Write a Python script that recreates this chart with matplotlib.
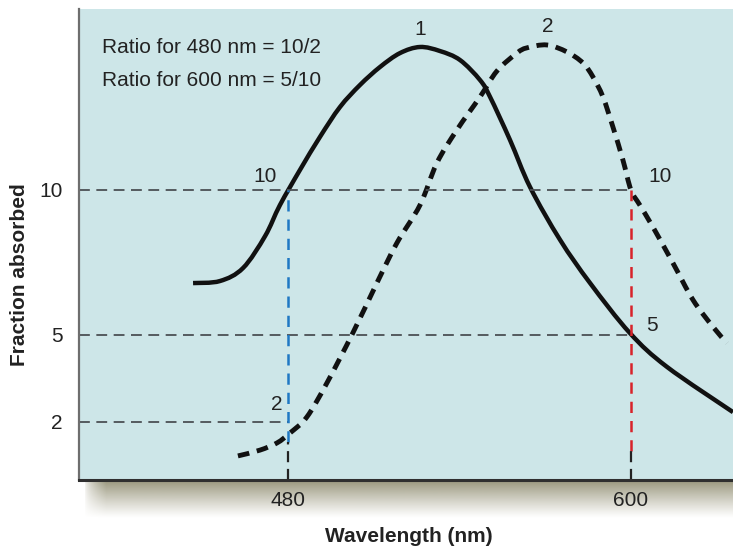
import numpy as np
import matplotlib.pyplot as plt
from matplotlib.path import Path
from matplotlib.patches import PathPatch

plt.rcParams['font.family'] = ['Liberation Sans', 'DejaVu Sans']

# pigment 1 (solid curve)
wl_1 = [446.8, 456.2, 464.3, 472.0, 477.2, 484.2, 491.2, 498.2, 505.2, 512.2,
        519.2, 526.2, 533.2, 540.2, 547.2, 550.7, 557.7, 564.7, 575.2, 585.7,
        599.6, 612.6, 635.7]
abs_1 = [6.79, 6.86, 7.31, 8.41, 9.48, 10.69, 11.83, 12.86, 13.62, 14.24,
         14.72, 14.93, 14.79, 14.48, 13.79, 13.21, 11.72, 10.10, 8.28, 6.79,
         5.07, 3.90, 2.34]

# pigment 2 (dashed curve)
wl_2 = [462.5, 470.2, 476.2, 480.7, 486.6, 493.6, 502.7, 511.1, 518.1, 526.2,
        532.1, 539.1, 547.2, 553.1, 560.1, 563.6, 570.6, 577.6, 583.2, 586.7,
        590.2, 593.7, 597.2, 600.0, 603.1, 607.7, 614.7, 621.7, 628.7, 633.6]
abs_2 = [0.83, 1.03, 1.28, 1.62, 2.17, 3.34, 5.07, 6.79, 8.17, 9.48,
         10.93, 12.07, 13.21, 14.10, 14.72, 14.90, 15.00, 14.76, 14.38, 13.90,
         13.21, 12.17, 11.03, 10.00, 9.48, 8.72, 7.48, 6.21, 5.28, 4.72]

x_ticks = [480, 600]
y_ticks = [2, 5, 10]
ratio_text = ["Ratio for 480 nm = 10/2", "Ratio for 600 nm = 5/10"]

# readings: wavelength, value on curve 1, value on curve 2
read_480 = (480, 10, 2)
read_600 = (600, 5, 10)

xmin, xmax = 406.9, 635.7
ymin, ymax = 0, 16.24


def smooth_path(x, y):
    # catmull-rom through the points, drawn as cubic bezier segments
    p = np.column_stack([x, y])
    n = len(p)
    verts = [p[0]]
    codes = [Path.MOVETO]
    for i in range(n - 1):
        p0 = p[i - 1] if i > 0 else p[i]
        p1 = p[i]
        p2 = p[i + 1]
        p3 = p[i + 2] if i + 2 < n else p[i + 1]
        verts += [p1 + (p2 - p0) / 6, p2 - (p3 - p1) / 6, p2]
        codes += [Path.CURVE4] * 3
    return Path(verts, codes)


fig = plt.figure(figsize=(7.33, 5.46), dpi=100)

# soft shadow under the plot area
sh = fig.add_axes([84 / 733, 28 / 546, 649 / 733, 38 / 546])
ny, nx = 80, 650
vert = np.linspace(1, 0, ny)[:, None] ** 1.1
horiz = np.clip(np.linspace(0, 650, nx) / 22.0, 0, 1)[None, :] ** 0.6
img = np.zeros((ny, nx, 4))
img[..., 0] = 0.60
img[..., 1] = 0.59
img[..., 2] = 0.49
img[..., 3] = vert * horiz
sh.imshow(img, aspect='auto', extent=[0, 1, 0, 1])
sh.axis('off')

ax = fig.add_axes([79 / 733, 66 / 546, 654 / 733, 471 / 546])
ax.set_facecolor('#cde6e8')
ax.set_xlim(xmin, xmax)
ax.set_ylim(ymin, ymax)

for s in ['top', 'right']:
    ax.spines[s].set_visible(False)
ax.spines['left'].set_color('#6e6e6e')
ax.spines['left'].set_linewidth(1.6)
ax.spines['bottom'].set_color('#2f2f2f')
ax.spines['bottom'].set_linewidth(2.2)

gray = '#4b5054'
ref = dict(color=gray, lw=1.3, linestyle=(0, (6, 3.6)))
ax.plot([xmin, read_600[0]], [read_480[1], read_480[1]], **ref)
ax.plot([xmin, read_600[0]], [read_600[1], read_600[1]], **ref)
ax.plot([xmin, read_480[0]], [read_480[2], read_480[2]], **ref)

ax.plot([read_480[0]] * 2, [1.3, read_480[1]], color='#1f78c4', lw=1.8,
        linestyle=(0, (4.5, 3.2)))
ax.plot([read_480[0]] * 2, [0, 1.3], color='#222222', lw=1.6,
        linestyle=(0, (5, 3)))
ax.plot([read_600[0]] * 2, [1.0, read_600[2]], color='#d8232a', lw=1.8,
        linestyle=(0, (4.5, 3.2)))
ax.plot([read_600[0]] * 2, [0, 1.0], color='#222222', lw=1.6,
        linestyle=(0, (5, 3)))

ax.add_patch(PathPatch(smooth_path(wl_1, abs_1), fill=False, edgecolor='#111111',
                       lw=3.2, capstyle='butt', joinstyle='round'))
ax.add_patch(PathPatch(smooth_path(wl_2, abs_2), fill=False, edgecolor='#111111',
                       lw=3.5, linestyle=(0, (2.4, 1.6)), capstyle='butt'))

fs = 15
tc = '#222222'
ax.text(526.2, 15.55, "1", fontsize=fs, color=tc, ha='center', va='center')
ax.text(570.9, 15.62, "2", fontsize=fs, color=tc, ha='center', va='center')
ax.text(472.0, 10.48, str(read_480[1]), fontsize=fs, color=tc, ha='center', va='center')
ax.text(476.2, 2.62, str(read_480[2]), fontsize=fs, color=tc, ha='center', va='center')
ax.text(610.2, 10.48, str(read_600[2]), fontsize=fs, color=tc, ha='center', va='center')
ax.text(607.3, 5.31, str(read_600[1]), fontsize=fs, color=tc, ha='center', va='center')

ax.text(414.9, 14.90, ratio_text[0], fontsize=fs, color=tc, va='center')
ax.text(414.9, 13.79, ratio_text[1], fontsize=fs, color=tc, va='center')

ax.set_xticks(x_ticks)
ax.set_yticks(y_ticks)
ax.tick_params(axis='x', length=0, pad=8, labelsize=fs, labelcolor=tc)
ax.tick_params(axis='y', length=0, pad=12, labelsize=fs, labelcolor=tc)

ax.set_xlabel("Wavelength (nm)", fontsize=15, fontweight='bold', color=tc)
ax.set_ylabel("Fraction absorbed", fontsize=15, fontweight='bold', color=tc)
ax.xaxis.set_label_coords(0.505, -0.099)
ax.yaxis.set_label_coords(-0.076, 0.437)

fig.savefig("out.png", dpi=100)
